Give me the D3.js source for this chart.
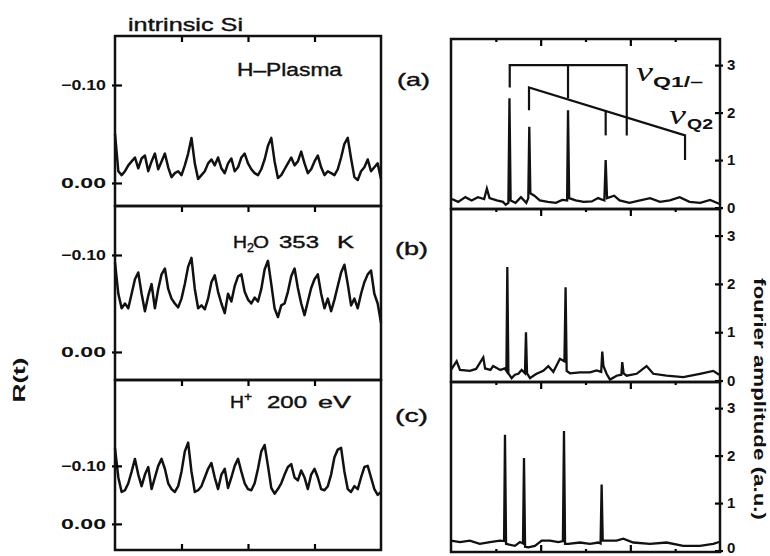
<!DOCTYPE html>
<html lang="en">
<head>
<meta charset="UTF-8">
<title>intrinsic Si - R(t) and fourier amplitude</title>
<script src="https://d3js.org/d3.v7.min.js"></script>
<style>
  body { margin: 0; background: #fff; }
  svg { display: block; font-family: "Liberation Sans", Arial, sans-serif; }
  .frame { fill: none; stroke: #111; stroke-width: 2.5; }
  .trace { fill: none; stroke: #111; stroke-width: 2.5; stroke-linejoin: round; }
  .spec { fill: none; stroke: #111; stroke-width: 2.3; stroke-linejoin: miter; }
  .mark { fill: none; stroke: #111; stroke-width: 2.2; }
  text { fill: #111; }
  .ink { stroke: #111; stroke-width: 0.4; }
</style>
</head>
<body>
<svg width="770" height="556"></svg>
<script>
// R(t) traces, one sample every 0.05 (arb. units), t from 0 to 4
const tStep = 0.05;
const tDomain = [0, 4];
const tTicks = [1, 2, 3];

const rPlasma = [
  -0.050, -0.012, -0.008, -0.012, -0.018, -0.022, -0.026, -0.015, -0.025, -0.028,
  -0.012, -0.022, -0.030, -0.014, -0.022, -0.030, -0.016, -0.006, -0.010, -0.012,
  -0.008, -0.018, -0.030, -0.046, -0.020, -0.004, -0.008, -0.012, -0.020, -0.024,
  -0.018, -0.026, -0.015, -0.010, -0.020, -0.025, -0.012, -0.016, -0.026, -0.030,
  -0.020, -0.014, -0.010, -0.008, -0.014, -0.024, -0.038, -0.046, -0.022, -0.005,
  -0.008, -0.014, -0.020, -0.026, -0.018, -0.022, -0.032, -0.020, -0.010, -0.014,
  -0.022, -0.028, -0.016, -0.008, -0.012, -0.010, -0.008, -0.014, -0.026, -0.040,
  -0.046, -0.025, -0.006, -0.003, -0.012, -0.016, -0.024, -0.012, -0.016, -0.020,
  -0.004];

const rWater = [
  -0.092, -0.060, -0.045, -0.050, -0.045, -0.060, -0.075, -0.082, -0.060, -0.042,
  -0.058, -0.070, -0.045, -0.065, -0.080, -0.086, -0.065, -0.055, -0.050, -0.046,
  -0.055, -0.070, -0.088, -0.097, -0.065, -0.045, -0.048, -0.044, -0.055, -0.072,
  -0.079, -0.062, -0.050, -0.040, -0.060, -0.052, -0.068, -0.078, -0.080, -0.062,
  -0.054, -0.050, -0.056, -0.052, -0.065, -0.085, -0.094, -0.070, -0.045, -0.036,
  -0.048, -0.050, -0.062, -0.078, -0.086, -0.066, -0.050, -0.038, -0.052, -0.066,
  -0.075, -0.080, -0.060, -0.045, -0.055, -0.042, -0.054, -0.068, -0.082, -0.090,
  -0.070, -0.048, -0.055, -0.045, -0.060, -0.072, -0.080, -0.084, -0.060, -0.050,
  -0.030];

const rIon = [
  -0.130, -0.080, -0.055, -0.058, -0.070, -0.090, -0.112, -0.085, -0.065, -0.085,
  -0.098, -0.060, -0.080, -0.100, -0.112, -0.095, -0.070, -0.060, -0.055, -0.065,
  -0.090, -0.125, -0.140, -0.090, -0.055, -0.058, -0.065, -0.080, -0.095, -0.105,
  -0.080, -0.060, -0.085, -0.095, -0.062, -0.080, -0.100, -0.112, -0.090, -0.070,
  -0.060, -0.058, -0.070, -0.095, -0.125, -0.136, -0.100, -0.062, -0.052, -0.060,
  -0.070, -0.085, -0.098, -0.103, -0.080, -0.075, -0.092, -0.080, -0.060, -0.085,
  -0.095, -0.080, -0.060, -0.058, -0.065, -0.085, -0.115, -0.128, -0.131, -0.090,
  -0.060, -0.055, -0.065, -0.060, -0.080, -0.098, -0.100, -0.080, -0.060, -0.050,
  -0.055];

// visible R range of each left panel (top, bottom) - the scan has unequal scales
const rDomains = [[-0.150, 0.0235], [-0.1505, 0.0289], [-0.248, 0.045]];
const rTicks = [-0.10, 0.00];
const rTickLabels = ["\u22120.10", "0.00"];

// fourier spectra: [frequency, amplitude]
const fDomain = [0, 3];
const fMajor = [1, 2];
const fMinor = [0.5, 1.5, 2.5];
const ampDomain = [-0.03, 3.55];
const ampTicks = [0, 1, 2, 3];

const specPlasma = [
  [0.01, 0.18], [0.08, 0.12], [0.16, 0.22], [0.23, 0.15], [0.30, 0.22], [0.37, 0.18],
  [0.40, 0.40], [0.43, 0.20], [0.51, 0.15], [0.58, 0.12], [0.61, 0.06], [0.64, 0.10],
  [0.652, 2.30], [0.665, 0.15], [0.72, 0.10], [0.78, 0.22], [0.84, 0.10], [0.862, 0.20],
  [0.873, 1.70], [0.885, 0.30], [0.93, 0.25], [0.99, 0.15], [1.08, 0.12], [1.17, 0.10],
  [1.24, 0.16], [1.295, 0.15], [1.305, 2.05], [1.318, 0.20], [1.39, 0.15], [1.48, 0.12],
  [1.57, 0.13], [1.64, 0.20], [1.71, 0.15], [1.725, 1.00], [1.74, 0.20], [1.82, 0.25],
  [1.88, 0.15], [1.99, 0.10], [2.11, 0.15], [2.22, 0.20], [2.33, 0.12], [2.44, 0.15],
  [2.55, 0.22], [2.66, 0.12], [2.78, 0.10], [2.89, 0.16], [2.99, 0.08]];

const specWater = [
  [0.0, 0.22], [0.063, 0.40], [0.10, 0.22], [0.21, 0.20], [0.28, 0.24], [0.36, 0.48],
  [0.38, 0.25], [0.44, 0.22], [0.47, 0.30], [0.55, 0.22], [0.60, 0.25], [0.618, 0.20],
  [0.628, 2.35], [0.640, 0.15], [0.676, 0.05], [0.713, 0.12], [0.751, 0.14], [0.788, 0.22],
  [0.825, 0.15], [0.836, 1.00], [0.848, 0.15], [0.881, 0.05], [0.936, 0.12], [0.955, 0.14],
  [1.029, 0.20], [1.085, 0.30], [1.141, 0.18], [1.215, 0.45], [1.265, 0.40], [1.278, 1.93],
  [1.290, 0.20], [1.327, 0.15], [1.438, 0.17], [1.550, 0.17], [1.624, 0.21], [1.675, 0.18],
  [1.687, 0.60], [1.70, 0.30], [1.735, 0.14], [1.773, 0.02], [1.847, 0.10], [1.900, 0.12],
  [1.910, 0.38], [1.925, 0.15], [1.959, 0.10], [2.070, 0.14], [2.181, 0.30], [2.256, 0.14],
  [2.404, 0.10], [2.590, 0.07], [2.776, 0.14], [2.925, 0.20], [2.99, 0.12]];

const specIon = [
  [0.0, 0.21], [0.10, 0.18], [0.21, 0.21], [0.32, 0.14], [0.435, 0.18], [0.546, 0.21],
  [0.592, 0.20], [0.602, 2.44], [0.614, 0.14], [0.713, 0.10], [0.769, 0.18], [0.803, 0.15],
  [0.814, 1.95], [0.826, 0.08], [0.862, 0.07], [0.936, 0.10], [1.011, 0.21], [1.104, 0.21],
  [1.197, 0.18], [1.248, 0.20], [1.260, 2.52], [1.272, 0.14], [1.308, 0.14], [1.438, 0.17],
  [1.550, 0.14], [1.643, 0.17], [1.668, 0.15], [1.680, 1.39], [1.692, 0.21], [1.717, 0.21],
  [1.847, 0.21], [1.921, 0.25], [2.033, 0.17], [2.219, 0.14], [2.404, 0.17], [2.590, 0.10],
  [2.776, 0.10], [2.925, 0.14], [2.99, 0.18]];

// line assignments drawn over spectrum (a)
const q1Freqs = [0.655, 1.305, 1.96];
const q1Level = 3.0;
const q1Ends = [2.53, 2.30, 1.52];
const q2Freqs = [0.87, 1.725, 2.61];
const q2Levels = [2.53, 2.04, 1.52];
const q2Ends = [2.05, 1.52, 1.00];

const traces = [rPlasma, rWater, rIon];
const spectra = [specPlasma, specWater, specIon];

// layout
const rowsL = [[36, 206], [206, 380], [380, 550]];
const rowsR = [[39, 209], [209, 382], [382, 552]];
const xL = d3.scaleLinear().domain(tDomain).range([115, 381]);
const xR = d3.scaleLinear().domain(fDomain).range([451, 720]);

const svg = d3.select("svg");

function styleAxis(a, size) {
  a.attr("font-size", size).attr("font-family", null).attr("font-weight", "bold");
  a.select(".domain").remove();
  a.selectAll(".tick line").attr("stroke-width", 2.2);
}

// left column: R(t)
traces.forEach((vals, k) => {
  const y = d3.scaleLinear().domain(rDomains[k]).range(rowsL[k]);
  const g = svg.append("g");

  g.append("path")
    .attr("class", "trace")
    .attr("d", d3.line().x((d, i) => xL(i * tStep)).y(d => y(d))(vals));

  g.append("g")
    .attr("transform", `translate(${xL.range()[0] - 3},0)`)
    .call(d3.axisLeft(y).tickValues(rTicks).tickSize(-10).tickPadding(6)
      .tickFormat((d, i) => rTickLabels[i]))
    .call(a => styleAxis(a, 14))
    .call(a => a.selectAll("text").attr("textLength", 45).attr("lengthAdjust", "spacingAndGlyphs"));

  g.append("g")
    .attr("transform", `translate(0,${rowsL[k][0]})`)
    .call(d3.axisTop(xL).tickValues(tTicks).tickSize(-6).tickFormat(""))
    .call(a => styleAxis(a, 10));

  if (k === 2) {
    g.append("g")
      .attr("transform", `translate(0,${rowsL[k][1]})`)
      .call(d3.axisBottom(xL).tickValues(tTicks).tickSize(-6).tickFormat(""))
      .call(a => styleAxis(a, 10));
  }

  g.append("rect").attr("class", "frame")
    .attr("x", xL.range()[0]).attr("y", rowsL[k][0])
    .attr("width", xL.range()[1] - xL.range()[0])
    .attr("height", rowsL[k][1] - rowsL[k][0]);
});

// right column: fourier amplitude
let yA;
spectra.forEach((pts, k) => {
  const y = d3.scaleLinear().domain(ampDomain).range([rowsR[k][1], rowsR[k][0]]);
  if (k === 0) yA = y;
  const g = svg.append("g");

  g.append("path")
    .attr("class", "spec")
    .attr("d", d3.line().x(d => xR(d[0])).y(d => y(d[1]))(pts));

  g.append("g")
    .attr("transform", `translate(${xR.range()[1] - 5},0)`)
    .call(d3.axisRight(y).tickValues(ampTicks).tickSize(8).tickPadding(4).tickFormat(d3.format("d")))
    .call(a => styleAxis(a, 15))
    .call(a => a.selectAll("text").attr("dy", d => (k === 2 && d === 0) ? "0.1em" : "0.3em"));

  [[fMajor, -7], [fMinor, -3]].forEach(([vals, len]) => {
    g.append("g")
      .attr("transform", `translate(0,${rowsR[k][0]})`)
      .call(d3.axisTop(xR).tickValues(vals).tickSize(len).tickFormat(""))
      .call(a => styleAxis(a, 10));
    if (k === 2) {
      g.append("g")
        .attr("transform", `translate(0,${rowsR[k][1]})`)
        .call(d3.axisBottom(xR).tickValues(vals).tickSize(len).tickFormat(""))
        .call(a => styleAxis(a, 10));
    }
  });

  g.append("rect").attr("class", "frame")
    .attr("x", xR.range()[0]).attr("y", rowsR[k][0])
    .attr("width", xR.range()[1] - xR.range()[0])
    .attr("height", rowsR[k][1] - rowsR[k][0]);
});

// assignment brackets in (a)
const mk = svg.append("g").attr("class", "mark");
mk.append("path").attr("d", d3.line()([
  [xR(q1Freqs[0]), yA(q1Ends[0])], [xR(q1Freqs[0]), yA(q1Level)],
  [xR(q1Freqs[2]), yA(q1Level)], [xR(q1Freqs[2]), yA(q1Ends[2])]]));
mk.append("path").attr("d", d3.line()([
  [xR(q1Freqs[1]), yA(q1Level)], [xR(q1Freqs[1]), yA(q1Ends[1])]]));
mk.append("path").attr("d", d3.line()([
  [xR(q2Freqs[0]), yA(q2Ends[0])], [xR(q2Freqs[0]), yA(q2Levels[0])],
  [xR(q2Freqs[2]), yA(q2Levels[2])], [xR(q2Freqs[2]), yA(q2Ends[2])]]));
mk.append("path").attr("d", d3.line()([
  [xR(q2Freqs[1]), yA(q2Levels[1])], [xR(q2Freqs[1]), yA(q2Ends[1])]]));

// texts
function stretched(x, y, str, size, width, weight) {
  return svg.append("text").attr("x", x).attr("y", y)
    .attr("font-size", size).attr("font-weight", weight || "normal")
    .attr("textLength", width).attr("lengthAdjust", "spacingAndGlyphs")
    .text(str);
}

stretched(128, 31, "intrinsic Si", 19, 115).attr("class", "ink");
stretched(237, 76, "H\u2013Plasma", 18, 105).attr("class", "ink");

// H2O 353 K
stretched(233, 248, "H", 17, 14).attr("class", "ink");
stretched(247, 252, "2", 12, 7).attr("class", "ink");
stretched(253, 248, "O", 17, 16).attr("class", "ink");
stretched(279, 248, "353", 17, 40).attr("class", "ink");
stretched(337, 248, "K", 17, 17).attr("class", "ink");

// H+ 200 eV
stretched(230, 408, "H", 17, 14).attr("class", "ink");
stretched(244, 401, "+", 12, 8).attr("class", "ink");
stretched(267, 408, "200", 17, 40).attr("class", "ink");
stretched(318, 408, "eV", 17, 33).attr("class", "ink");

stretched(397, 86, "(a)", 19, 33).attr("class", "ink");
stretched(395, 255, "(b)", 19, 33).attr("class", "ink");
stretched(395, 422, "(c)", 19, 33).attr("class", "ink");

svg.append("text").attr("x", 636).attr("y", 81)
  .attr("font-family", "'Liberation Serif', serif").attr("font-style", "italic")
  .attr("font-size", 28).attr("textLength", 17).attr("lengthAdjust", "spacingAndGlyphs")
  .text("\u03BD");
stretched(653, 87, "Q1/\u2013", 15, 50, "bold");
svg.append("text").attr("x", 669).attr("y", 124)
  .attr("font-family", "'Liberation Serif', serif").attr("font-style", "italic")
  .attr("font-size", 28).attr("textLength", 17).attr("lengthAdjust", "spacingAndGlyphs")
  .text("\u03BD");
stretched(687, 129, "Q2", 15, 26, "bold");

svg.append("text")
  .attr("transform", "translate(25,380) rotate(-90)")
  .attr("text-anchor", "middle").attr("font-size", 17).attr("font-weight", "bold")
  .attr("textLength", 45).attr("lengthAdjust", "spacingAndGlyphs")
  .text("R(t)");

svg.append("text")
  .attr("transform", "translate(754,399) rotate(90)")
  .attr("text-anchor", "middle").attr("font-size", 17).attr("font-weight", "bold")
  .attr("textLength", 242).attr("lengthAdjust", "spacingAndGlyphs")
  .text("fourier amplitude (a.u.)");
</script>
</body>
</html>
